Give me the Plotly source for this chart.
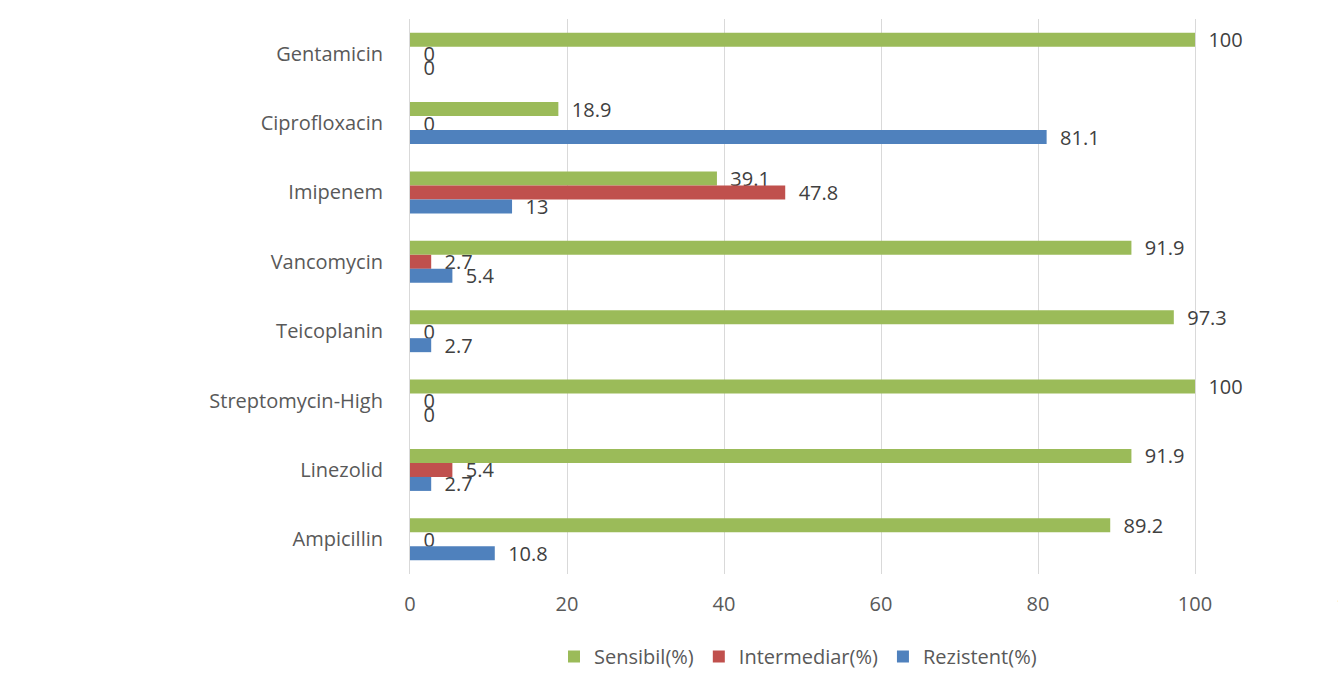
import plotly.graph_objects as go

categories = ["Gentamicin", "Ciprofloxacin", "Imipenem", "Vancomycin",
              "Teicoplanin", "Streptomycin-High", "Linezolid", "Ampicillin"]
sensibil = [100, 18.9, 39.1, 91.9, 97.3, 100, 91.9, 89.2]
intermediar = [0, 0, 47.8, 2.7, 0, 0, 5.4, 0]
rezistent = [0, 81.1, 13, 5.4, 2.7, 0, 2.7, 10.8]
series_names = ["Sensibil(%)", "Intermediar(%)", "Rezistent(%)"]
colors = ["#9BBB59", "#C0504D", "#4F81BD"]
x_ticks = [0, 20, 40, 60, 80, 100, 120]

FONT = "Open Sans"
FS = 20
fig = go.Figure()
for name, vals, col in zip(series_names, [sensibil, intermediar, rezistent], colors):
    fig.add_trace(go.Bar(
        y=categories, x=vals, name=name, orientation="h",
        marker=dict(color=col, line=dict(width=0)),
        text=[f"{v:g}" for v in vals],
        texttemplate="\u00a0\u00a0%{text}",
        textposition="outside", constraintext="none", cliponaxis=False,
        textfont=dict(family=FONT, size=FS, color="#404040"),
    ))

W, H = 1338, 676
L = 410
xmax = (W - L) / 7.85
fig.update_layout(
    width=W, height=H, barmode="group", bargap=0.395, bargroupgap=0,
    margin=dict(l=L, r=0, t=19, b=101),
    plot_bgcolor="white", paper_bgcolor="white",
    font=dict(family=FONT, size=FS, color="#595959"),
    xaxis=dict(range=[0, xmax], tickvals=x_ticks, showgrid=True,
               gridcolor="#D9D9D9", gridwidth=1, zeroline=False, showline=False,
               ticks="", ticklabelstandoff=16,
               tickfont=dict(size=FS, color="#595959")),
    yaxis=dict(autorange="reversed", showline=True, linecolor="#D9D9D9",
               linewidth=1, ticks="", ticklabelstandoff=22,
               tickfont=dict(size=FS, color="#595959")),
    legend=dict(orientation="h", x=(798 - L) / (W - L), xanchor="center",
                y=-0.149, yanchor="middle", font=dict(size=FS, color="#595959"),
                traceorder="normal", itemsizing="constant"),
    showlegend=True,
)
fig.add_annotation(text=str(x_ticks[-1]), xref="paper", yref="paper",
                   x=x_ticks[-1] / xmax, xanchor="left", xshift=-18,
                   y=0, yanchor="middle", yshift=-30, showarrow=False,
                   font=dict(size=FS, color="#595959"))
fig.write_html("out.html")
